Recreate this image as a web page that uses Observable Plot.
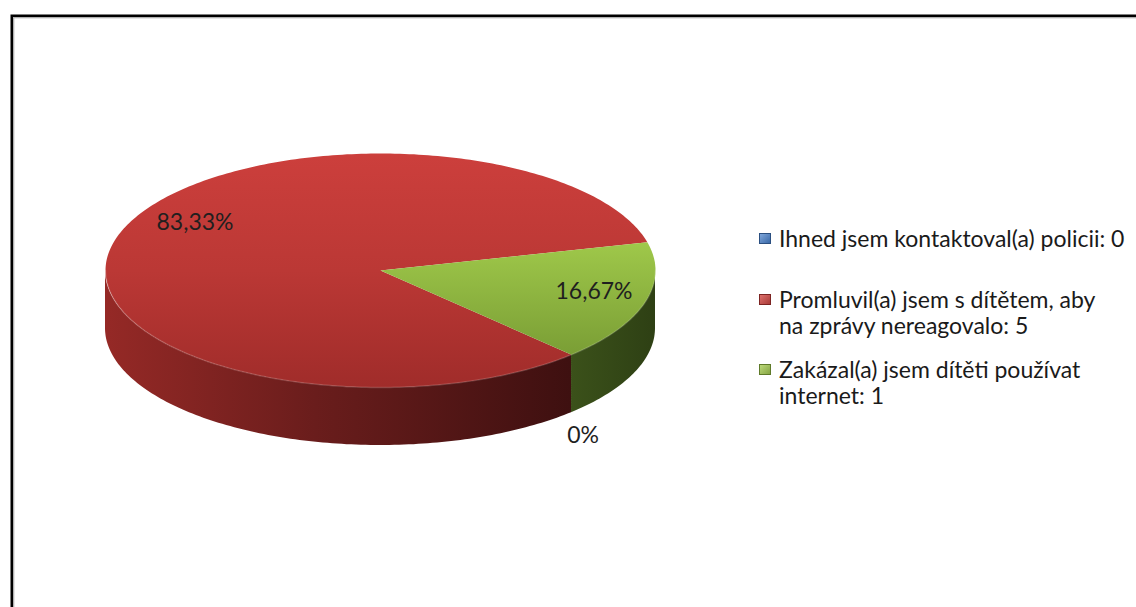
<!DOCTYPE html>
<html>
<head>
<meta charset="utf-8">
<script src="https://cdn.jsdelivr.net/npm/d3@7"></script>
<script src="https://cdn.jsdelivr.net/npm/@observablehq/plot@0.6"></script>
<style>
  html, body { margin: 0; padding: 0; background: #fff; overflow: hidden; width: 1136px; height: 607px; }
  #wrap { position: relative; width: 1136px; height: 607px; }
  #wrap svg { position: absolute; left: 0; top: 0; }
  #legend { position: absolute; left: 759px; top: 0; font-family: Lato, "Open Sans", sans-serif; font-size: 23px; line-height: 26px; color: #1a1a1a; }
  #legend .item { position: absolute; left: 0; white-space: pre; padding-left: 20px; }
  #legend .sw { position: absolute; left: 0; top: 8px; width: 10px; height: 9px; border: 1px solid; box-sizing: content-box; }
</style>
</head>
<body>
<div id="wrap"></div>
<script>
// ---- data ----
const categories = [
  "Ihned jsem kontaktoval(a) policii",
  "Promluvil(a) jsem s dítětem, aby\nna zprávy nereagovalo",
  "Zakázal(a) jsem dítěti používat\ninternet"
];
const values = [0, 5, 1];
const palette = ["#4F81BD", "#C0504D", "#9BBB59"];

// ---- layout ----
const W = 1136, H = 607;
const CX = 380, CY = 270, RX = 275, RY = 117;   // pie top face placement (px)
const DEPTH = 58 / RY;                           // pie thickness in radius units
const START = 46;                                // first slice angle, deg clockwise from 3 o'clock

const csLocale = d3.formatLocale({decimal: ",", thousands: "\u00a0", grouping: [3], currency: ["", " Kč"]});
const pct = csLocale.format(".2~%");

const total = d3.sum(values);
let acc = 0;
const slices = categories.map((c, i) => {
  const a0 = START + 360 * acc / total;
  acc += values[i];
  const a1 = START + 360 * acc / total;
  return {i, cat: c, value: values[i], a0, a1, mid: (a0 + a1) / 2, share: values[i] / total};
});

const rad = d => d * Math.PI / 180;
const arcPts = (a0, a1) => {
  const n = Math.max(2, Math.ceil(Math.abs(a1 - a0)));
  return d3.range(n + 1).map(k => ({a: a0 + (a1 - a0) * k / n}));
};
const frontRanges = (a0, a1) => {
  const out = [];
  for (let k = -1; k <= 2; k++) {
    const lo = Math.max(a0, k * 360), hi = Math.min(a1, k * 360 + 180);
    if (hi > lo) out.push([lo, hi]);
  }
  return out;
};

const gradTop = ["url(#gTop0)", "url(#gTop1)", "url(#gTop2)"];
const gradSide = ["url(#gSide0)", "url(#gSide1)", "url(#gSide2)"];

const wallMarks = [];
const topMarks = [];
for (const s of slices) {
  if (s.value <= 0) continue;
  for (const [lo, hi] of frontRanges(s.a0, s.a1)) {
    wallMarks.push(Plot.areaY(arcPts(lo, hi), {
      x: d => Math.cos(rad(d.a)),
      y1: d => Math.sin(rad(d.a)),
      y2: d => Math.sin(rad(d.a)) + DEPTH,
      fill: gradSide[s.i]
    }));
  }
  const pts = [{x: 0, y: 0}, ...arcPts(s.a0, s.a1).map(d => ({x: Math.cos(rad(d.a)), y: Math.sin(rad(d.a))}))];
  topMarks.push(Plot.line(pts, {x: "x", y: "y", fill: gradTop[s.i], stroke: "none", curve: "linear"}));
}

// front edge (rim highlight) and bottom edge (soft shadow)
const rim = arcPts(0, 180);
const shadowEdge = arcPts(-8, 188);

// labels
const labelData = slices.map(s => {
  if (s.value > 0) {
    return {x: 0.8 * Math.cos(rad(s.mid)), y: 0.8 * Math.sin(rad(s.mid)), text: pct(s.share), i: s.i};
  }
  return {x: 1.05 * Math.cos(rad(s.mid)), y: 1.05 * Math.sin(rad(s.mid)) + DEPTH, text: pct(s.share), i: s.i};
});
const nudge = [[2, 19], [26, -22], [2, -5]];

const chart = Plot.plot({
  width: W, height: H, margin: 0,
  style: {background: "transparent", overflow: "visible"},
  x: {domain: [(0 - CX) / RX, (W - CX) / RX], range: [0, W], axis: null},
  y: {domain: [(0 - CY) / RY, (H - CY) / RY], range: [0, H], axis: null},
  marks: [
    Plot.frame({stroke: "#000", strokeWidth: 2.5, insetLeft: 11.25, insetTop: 15.25, insetRight: -30, insetBottom: -30}),
    Plot.frame({stroke: "#a8a8a8", strokeWidth: 1.2, insetLeft: 13.2, insetTop: 17.2, insetRight: -30, insetBottom: -30}),
    Plot.line(shadowEdge, {
      x: d => 1.01 * Math.cos(rad(d.a)), y: d => Math.sin(rad(d.a)) + DEPTH + 0.01,
      stroke: "#000", strokeOpacity: 0.22, strokeWidth: 5, ariaLabel: "pie-shadow"
    }),
    ...wallMarks,
    ...topMarks,
    Plot.line(rim, {x: d => Math.cos(rad(d.a)), y: d => Math.sin(rad(d.a)), stroke: "rgba(255,255,255,0.16)", strokeWidth: 1.5}),
    ...labelData.map(d => Plot.text([d], {
      x: "x", y: "y", text: "text",
      dx: nudge[d.i][0], dy: nudge[d.i][1],
      fontFamily: "Lato, 'Open Sans', sans-serif", fontSize: 23, fill: "#1f1f1f"
    }))
  ]
});

d3.select(chart).insert("defs", ":first-child").html(`
  <filter id="blurShadow" x="-20%" y="-20%" width="140%" height="140%"><feGaussianBlur stdDeviation="3"/></filter>
  <linearGradient id="gTop1" x1="0" y1="0" x2="0" y2="1">
    <stop offset="0" stop-color="#cc3f3c"/><stop offset="0.5" stop-color="#bb3835"/><stop offset="1" stop-color="#a02c2a"/>
  </linearGradient>
  <linearGradient id="gTop2" x1="0" y1="0" x2="0" y2="1">
    <stop offset="0" stop-color="#9fc84a"/><stop offset="1" stop-color="#7a9e35"/>
  </linearGradient>
  <linearGradient id="gTop0" x1="0" y1="0" x2="0" y2="1">
    <stop offset="0" stop-color="#5a8dcc"/><stop offset="1" stop-color="#3b679e"/>
  </linearGradient>
  <linearGradient id="gSide1" x1="0" y1="0" x2="1" y2="0">
    <stop offset="0" stop-color="#952926"/><stop offset="0.45" stop-color="#6a1d1c"/><stop offset="1" stop-color="#3e1010"/>
  </linearGradient>
  <linearGradient id="gSide2" x1="0" y1="0" x2="1" y2="0">
    <stop offset="0" stop-color="#3b511a"/><stop offset="1" stop-color="#2e4014"/>
  </linearGradient>
  <linearGradient id="gSide0" x1="0" y1="0" x2="1" y2="0">
    <stop offset="0" stop-color="#2f5586"/><stop offset="1" stop-color="#1c3452"/>
  </linearGradient>
`);
d3.select(chart).select('[aria-label="pie-shadow"]').attr("filter", "url(#blurShadow)");

const wrap = document.getElementById("wrap");
wrap.appendChild(chart);

// legend
const legendTop = [225, 286, 356];
const swatchGrad = [
  ["#7fa6da", "#3a69a8", "#2b4f80"],
  ["#dd706c", "#a93b38", "#7c2422"],
  ["#bcd97a", "#86a544", "#5f7a2a"]
];
const legend = d3.select(wrap).append("div").attr("id", "legend");
const items = legend.selectAll("div.item").data(slices).join("div")
  .attr("class", "item")
  .style("top", d => legendTop[d.i] + "px")
  .text(d => `${d.cat}: ${d.value}`);
items.insert("span", ":first-child").attr("class", "sw")
  .style("background", d => `linear-gradient(135deg, ${swatchGrad[d.i][0]}, ${swatchGrad[d.i][1]})`)
  .style("border-color", d => swatchGrad[d.i][2]);
</script>
</body>
</html>
